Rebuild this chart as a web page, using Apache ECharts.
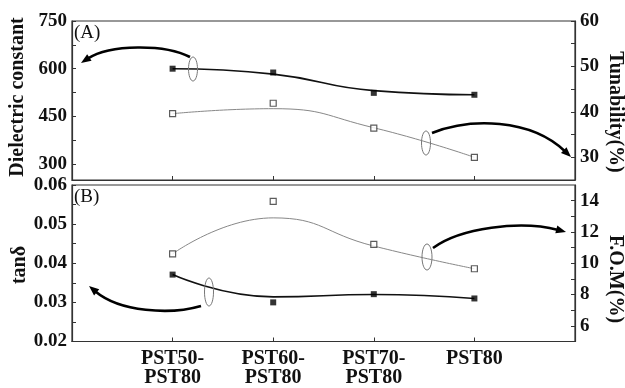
<!DOCTYPE html>
<html>
<head>
<meta charset="UTF-8">
<title>PST dielectric</title>
<style>
  * { margin: 0; padding: 0; }
  body { background: #fff; }
  #chart { width: 625px; height: 388px; }
</style>
</head>
<body>
<div id="chart"></div>
<script src="https://cdn.jsdelivr.net/npm/echarts@6/dist/echarts.min.js"></script>
<script>
  // categories
  var categories = ['PST50-\nPST80', 'PST60-\nPST80', 'PST70-\nPST80', 'PST80'];
  var catPos = [1, 2, 3, 4];

  // panel A
  var dielectric = [600, 588, 524, 518];
  var dielectricFit = [600, 583, 531, 518];
  var tunability = [39.6, 41.9, 36.4, 30.0];
  var tunabilityFit = [39.6, 40.7, 36.5, 30.0];

  // panel B
  var tanDelta = [0.0371, 0.0300, 0.0321, 0.0310];
  var tanDeltaFit = [0.0371, 0.0314, 0.0320, 0.0310];
  var fom = [10.6, 13.95, 11.2, 9.65];
  var fomFit = [10.6, 12.9, 11.1, 9.65];

  // tick labels
  var dielectricTicks = [300, 450, 600, 750];
  var tunabilityTicks = [30, 40, 50, 60];
  var tanTicks = [0.02, 0.03, 0.04, 0.05, 0.06];
  var fomTicks = [6, 8, 10, 12, 14];

  var serif = 'Liberation Serif';
  var myChart = echarts.init(document.getElementById('chart'), null, { renderer: 'canvas' });

  function pairs(xs, ys) {
    return xs.map(function (x, i) { return [x, ys[i]]; });
  }
  function minor(list) { // 主刻度之间加半格
    var out = [];
    for (var i = 0; i < list.length; i++) {
      out.push(list[i]);
      if (i < list.length - 1) out.push((list[i] + list[i + 1]) / 2);
    }
    return out;
  }

  var axisLine = { show: true, lineStyle: { color: '#333', width: 1.2 } };
  var tickStyle = { show: true, inside: true, length: 4, lineStyle: { color: '#333' } };
  var labelFont = { fontFamily: serif, fontWeight: 'bold', fontSize: 19, color: '#111' };

  function xAxis(gridIndex, showLabels) {
    return {
      type: 'value', gridIndex: gridIndex, min: 0, max: 5,
      axisLine: axisLine, splitLine: { show: false },
      axisTick: Object.assign({}, tickStyle, { customValues: catPos }),
      axisLabel: Object.assign({ show: showLabels, customValues: catPos, margin: 8, lineHeight: 19,
        formatter: function (v) { return categories[Math.round(v) - 1] || ''; } }, labelFont, { fontSize: 20 })
    };
  }
  function yAxis(gridIndex, pos, min, max, ticks, fmt) {
    return {
      type: 'value', gridIndex: gridIndex, position: pos, min: min, max: max,
      axisLine: axisLine, splitLine: { show: false },
      axisTick: Object.assign({}, tickStyle, { customValues: minor(ticks) }),
      axisLabel: Object.assign({ customValues: ticks, margin: 5, formatter: fmt }, labelFont)
    };
  }

  function fitLine(name, x, y, yi, color, w) {
    return { name: name, type: 'line', xAxisIndex: x, yAxisIndex: yi, smooth: 0.5, symbol: 'none',
      data: pairs(catPos, y), lineStyle: { color: color, width: w }, z: 2, silent: true };
  }
  function points(name, x, y, yi, filled) {
    return { name: name, type: 'scatter', xAxisIndex: x, yAxisIndex: yi, symbol: 'rect', symbolSize: 6,
      data: pairs(catPos, y), z: 3,
      itemStyle: filled ? { color: '#000' } : { color: '#fff', borderColor: '#333', borderWidth: 1.2 } };
  }

  var option = {
    backgroundColor: '#fff',
    animation: false,
    grid: [
      { left: 72, right: 50, top: 21, height: 159, show: true, borderColor: '#333', borderWidth: 1.2 },
      { left: 72, right: 50, top: 185, height: 159, show: true, borderColor: '#333', borderWidth: 1.2 }
    ],
    xAxis: [xAxis(0, false), xAxis(1, true)],
    yAxis: [
      yAxis(0, 'left', 250, 750, dielectricTicks, function (v) { return String(v); }),
      yAxis(0, 'right', 25, 60, tunabilityTicks, function (v) { return String(v); }),
      yAxis(1, 'left', 0.02, 0.06, tanTicks, function (v) { return v.toFixed(2); }),
      yAxis(1, 'right', 5, 15, fomTicks, function (v) { return String(v); })
    ],
    series: [
      fitLine('Dielectric constant', 0, dielectricFit, 0, '#111', 1.6),
      points('Dielectric constant', 0, dielectric, 0, true),
      fitLine('Tunability', 0, tunabilityFit, 1, '#888', 1),
      points('Tunability', 0, tunability, 1, false),
      fitLine('tanδ', 1, tanDeltaFit, 2, '#111', 1.6),
      points('tanδ', 1, tanDelta, 2, true),
      fitLine('F.O.M', 1, fomFit, 3, '#888', 1),
      points('F.O.M', 1, fom, 3, false)
    ]
  };
  myChart.setOption(option);

  // 注释：椭圆 + 弧形箭头
  function arrow(p0, c1, c2, p1) {
    var dx = p1[0] - c2[0], dy = p1[1] - c2[1];
    var len = Math.sqrt(dx * dx + dy * dy); dx /= len; dy /= len;
    var L = 10, W = 4;
    var bx = p1[0] - dx * L, by = p1[1] - dy * L;
    return [
      { type: 'bezierCurve', shape: { x1: p0[0], y1: p0[1], cpx1: c1[0], cpy1: c1[1], cpx2: c2[0], cpy2: c2[1],
          x2: bx + dx * 2, y2: by + dy * 2 }, style: { stroke: '#000', lineWidth: 2.6, fill: null }, z: 10 },
      { type: 'polygon', shape: { points: [p1, [bx - dy * W, by + dx * W], [bx + dy * W, by - dx * W]] },
        style: { fill: '#000' }, z: 10 }
    ];
  }
  function ring(cx, cy, rx, ry) {
    return { type: 'ellipse', shape: { cx: cx, cy: cy, rx: rx, ry: ry },
      style: { stroke: '#777', lineWidth: 1, fill: null }, z: 10 };
  }
  function vtext(text, x, y, rot) {
    return { type: 'text', x: x, y: y, rotation: rot, z: 10,
      style: { text: text, font: 'bold 20px "Liberation Serif"', fill: '#111', align: 'center', verticalAlign: 'middle' } };
  }

  var graphics = [].concat(
    ring(193, 69, 4.5, 12),
    arrow([190, 57], [165, 44], [110, 44], [81, 63]),
    ring(426, 143, 4.5, 12),
    arrow([432, 133], [470, 118], [530, 118], [571, 157]),
    ring(209, 292, 4.5, 14),
    arrow([201, 306], [170, 315], [120, 312], [89, 286]),
    ring(427, 257, 5, 13),
    arrow([433, 248], [460, 228], [520, 220], [566, 232]),
    [
      vtext('Dielectric constant', 18, 97, Math.PI / 2),
      vtext('Tunability(%)', 615, 112, -Math.PI / 2),
      vtext('tanδ', 20, 265, Math.PI / 2),
      vtext('F.O.M(%)', 615, 279, -Math.PI / 2),
      { type: 'text', x: 74, y: 33, z: 10, style: { text: '(A)', font: '19px "Liberation Serif"', fill: '#111', verticalAlign: 'middle' } },
      { type: 'text', x: 74, y: 197, z: 10, style: { text: '(B)', font: '19px "Liberation Serif"', fill: '#111', verticalAlign: 'middle' } }
    ]
  );
  myChart.setOption({ graphic: graphics });
</script>
</body>
</html>
